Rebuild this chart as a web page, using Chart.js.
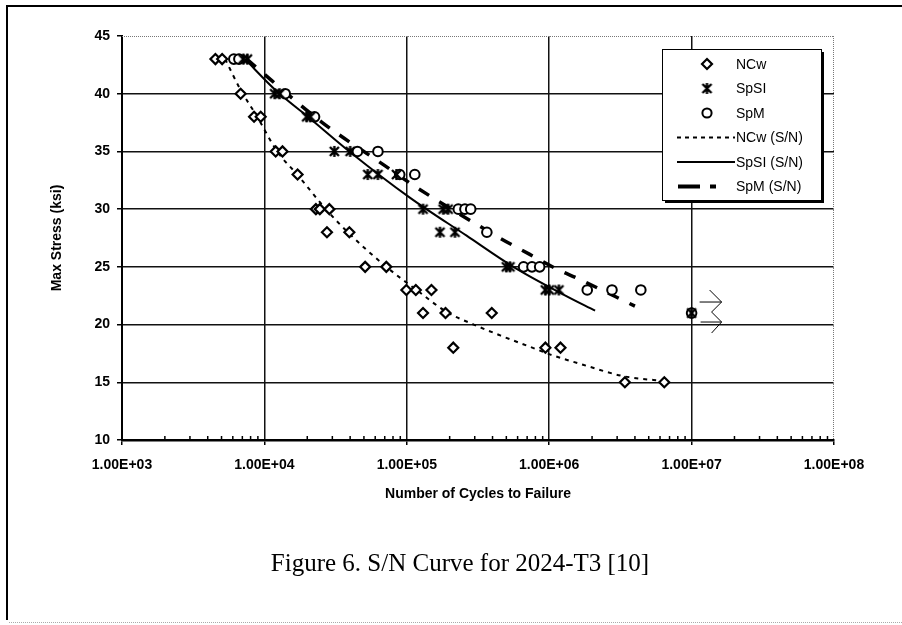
<!DOCTYPE html>
<html lang="en">
  <head>
    <meta charset="utf-8" />
    <title>S/N Curve for 2024-T3</title>
    <script src="https://cdn.jsdelivr.net/npm/chart.js@4.4.1/dist/chart.umd.min.js"></script>
    <style>
      body { margin: 0; background: #fff; }
      .page { position: relative; width: 902px; height: 625px; overflow: hidden; }
      .frame { position: absolute; left: 6px; top: 5px; right: -5px; bottom: 5px; border-top: 2px solid #000; border-left: 2px solid #000; }
      .bottom-rule { position: absolute; left: 9px; right: 0; top: 622px; border-top: 1px dotted #aaa; }
      .chart-wrap { position: absolute; left: 0; top: 0; width: 902px; height: 625px; }
      .caption { position: absolute; left: 0; top: 548px; width: 920px; text-align: center; font-family: "Liberation Serif", "Times New Roman", serif; font-size: 25px; line-height: 30px; color: #000; }
    </style>
  </head>
  <body>
    <div class="page">
      <div class="frame"></div>
      <div class="bottom-rule"></div>
      <div class="chart-wrap"><canvas id="sn"></canvas></div>
      <div class="caption">Figure 6. S/N Curve for 2024-T3 [10]</div>
    </div>

    <script>
      // axis ticks
      const xTickValues = [1e3, 1e4, 1e5, 1e6, 1e7, 1e8];
      const xTickLabels = ["1.00E+03", "1.00E+04", "1.00E+05", "1.00E+06", "1.00E+07", "1.00E+08"];
      const yTickValues = [10, 15, 20, 25, 30, 35, 40, 45];

      // test points (cycles, ksi)
      const ncwCycles = [4530, 5050, 6810, 8460, 9420, 12000, 13400, 17100, 23000, 24500, 28600, 27500, 39500, 51000, 71800, 99300, 115700, 149000, 130000, 187000, 395000, 212000, 940000, 1200000, 3400000, 6430000];
      const ncwStress = [43, 43, 40, 38, 38, 35, 35, 33, 30, 30, 30, 28, 28, 25, 25, 23, 23, 23, 21, 21, 21, 18, 18, 18, 15, 15];

      const spslCycles = [7100, 7600, 11800, 12800, 19800, 21000, 31000, 40000, 53200, 62700, 84600, 130000, 180000, 195000, 171000, 218000, 500000, 530000, 940000, 1000000, 1170000, 10000000];
      const spslStress = [43, 43, 40, 40, 38, 38, 35, 35, 33, 33, 33, 30, 30, 30, 28, 28, 25, 25, 23, 23, 23, 21];

      const spmCycles = [6100, 6620, 14000, 22500, 45000, 62700, 89200, 113800, 230000, 256000, 281000, 365000, 661000, 757000, 857000, 1850000, 2760000, 4400000, 10000000];
      const spmStress = [43, 43, 40, 38, 35, 35, 33, 33, 30, 30, 30, 28, 25, 25, 25, 23, 23, 23, 21];

      // S/N curves
      const ncwFitCycles = [5300, 6760, 8900, 12300, 17000, 27000, 38500, 71800, 117000, 190000, 295000, 453000, 760000, 1020000, 1750000, 3400000, 6700000];
      const ncwFitStress = [43, 40.4, 38, 35, 33, 30, 28, 25, 23, 21.1, 20, 19.06, 18, 17.4, 16.5, 15.5, 15.1];

      const spslFitCycles = [7300, 12000, 20700, 39500, 105000, 263000, 560000, 1260000, 2100000];
      const spslFitStress = [43, 40.3, 37.9, 35, 31, 27.7, 25, 22.6, 21.2];

      const spmFitCycles = [7500, 25500, 67600, 110000, 240000, 465000, 725000, 1135000, 1580000, 4000000];
      const spmFitStress = [43, 37.5, 33.9, 32.1, 29.5, 27.4, 26.1, 24.8, 24.0, 21.6];

      function pts(xs, ys) {
        return xs.map((x, i) => ({ x: x, y: ys[i] }));
      }

      // asterisk-like marker (X with a vertical bar)
      function makeStar(size) {
        const c = document.createElement("canvas");
        c.width = size;
        c.height = size;
        const g = c.getContext("2d");
        g.strokeStyle = "#000";
        g.lineWidth = 2.4;
        g.beginPath();
        g.moveTo(2, 2); g.lineTo(size - 2, size - 2);
        g.moveTo(2, size - 2); g.lineTo(size - 2, 2);
        g.moveTo(size / 2, 1); g.lineTo(size / 2, size - 1);
        g.stroke();
        return c;
      }
      const starImg = makeStar(13);

      const axisFont = { family: "'Liberation Sans', Arial, sans-serif", size: 14, weight: "bold" };

      const extras = {
        id: "extras",
        afterDraw(chart) {
          const { ctx, chartArea: a, scales } = chart;
          const x = scales.x, y = scales.y;
          ctx.save();

          // dotted plot-area border (top, right)
          ctx.strokeStyle = "#777";
          ctx.lineWidth = 1;
          ctx.setLineDash([1, 1]);
          ctx.beginPath();
          ctx.moveTo(a.left, a.top + 0.5);
          ctx.lineTo(a.right, a.top + 0.5);
          ctx.moveTo(a.right - 0.5, a.top);
          ctx.lineTo(a.right - 0.5, a.bottom);
          ctx.stroke();
          ctx.setLineDash([]);

          // minor ticks on the log axis
          ctx.strokeStyle = "#000";
          ctx.lineWidth = 1.5;
          ctx.beginPath();
          for (let d = 3; d < 8; d++) {
            for (let k = 2; k < 10; k++) {
              const px = x.getPixelForValue(k * Math.pow(10, d));
              ctx.moveTo(px, a.bottom);
              ctx.lineTo(px, a.bottom - 4);
            }
          }
          ctx.stroke();

          // run-out arrow next to the 1E+07 point
          const rx = x.getPixelForValue(spslCycles[spslCycles.length - 1]);
          const ry = y.getPixelForValue(spslStress[spslStress.length - 1]);
          ctx.lineWidth = 1;
          ctx.beginPath();
          ctx.moveTo(rx + 18, ry - 23);
          ctx.lineTo(rx + 30, ry - 11);
          ctx.lineTo(rx + 20, ry - 1);
          ctx.lineTo(rx + 30, ry + 9);
          ctx.lineTo(rx + 20, ry + 20);
          ctx.moveTo(rx + 8, ry - 11);
          ctx.lineTo(rx + 30, ry - 11);
          ctx.moveTo(rx + 9, ry + 9);
          ctx.lineTo(rx + 30, ry + 9);
          ctx.stroke();

          // legend box
          const L = 662, T = 49, W = 159, H = 151;
          ctx.fillStyle = "#000";
          ctx.fillRect(L + 3, T + 3, W, H);
          ctx.fillStyle = "#fff";
          ctx.fillRect(L, T, W, H);
          ctx.strokeStyle = "#000";
          ctx.lineWidth = 1;
          ctx.strokeRect(L + 0.5, T + 0.5, W, H);

          const rows = [64, 88.5, 113, 137.5, 162, 186.5];
          const names = ["NCw", "SpSI", "SpM", "NCw (S/N)", "SpSI (S/N)", "SpM (S/N)"];
          const mx = 707;

          // diamond
          ctx.lineWidth = 2.2;
          ctx.beginPath();
          ctx.moveTo(mx, rows[0] - 5);
          ctx.lineTo(mx + 5, rows[0]);
          ctx.lineTo(mx, rows[0] + 5);
          ctx.lineTo(mx - 5, rows[0]);
          ctx.closePath();
          ctx.stroke();
          // star
          ctx.drawImage(starImg, mx - 6.5, rows[1] - 6.5);
          // circle
          ctx.lineWidth = 2;
          ctx.beginPath();
          ctx.arc(mx, rows[2], 4.6, 0, Math.PI * 2);
          ctx.stroke();
          // dotted
          ctx.setLineDash([4, 4]);
          ctx.beginPath();
          ctx.moveTo(677, rows[3]);
          ctx.lineTo(735, rows[3]);
          ctx.stroke();
          ctx.setLineDash([]);
          // solid
          ctx.beginPath();
          ctx.moveTo(677, rows[4]);
          ctx.lineTo(735, rows[4]);
          ctx.stroke();
          // thick dash
          ctx.lineWidth = 4;
          ctx.beginPath();
          ctx.moveTo(678, rows[5]);
          ctx.lineTo(700, rows[5]);
          ctx.moveTo(710, rows[5]);
          ctx.lineTo(716, rows[5]);
          ctx.stroke();

          ctx.fillStyle = "#000";
          ctx.font = "14px 'Liberation Sans', Arial, sans-serif";
          ctx.textBaseline = "middle";
          ctx.textAlign = "left";
          names.forEach((n, i) => ctx.fillText(n, 736, rows[i] + 1));

          ctx.restore();
        },
      };

      new Chart(document.getElementById("sn"), {
        type: "scatter",
        data: {
          datasets: [
            {
              label: "NCw",
              data: pts(ncwCycles, ncwStress),
              pointStyle: "rectRot",
              pointRadius: 5,
              pointBorderWidth: 2.2,
              borderColor: "#000",
              backgroundColor: "#fff",
              order: 1,
            },
            {
              label: "SpSI",
              data: pts(spslCycles, spslStress),
              pointStyle: starImg,
              pointRadius: 6.5,
              borderColor: "#000",
              backgroundColor: "#000",
              order: 1,
            },
            {
              label: "SpM",
              data: pts(spmCycles, spmStress),
              pointStyle: "circle",
              pointRadius: 4.8,
              pointBorderWidth: 2,
              borderColor: "#000",
              backgroundColor: "#fff",
              order: 1,
            },
            {
              label: "NCw (S/N)",
              data: pts(ncwFitCycles, ncwFitStress),
              showLine: true,
              pointRadius: 0,
              borderColor: "#000",
              borderWidth: 2,
              borderDash: [4, 5],
              cubicInterpolationMode: "monotone",
              order: 2,
            },
            {
              label: "SpSI (S/N)",
              data: pts(spslFitCycles, spslFitStress),
              showLine: true,
              pointRadius: 0,
              borderColor: "#000",
              borderWidth: 2,
              cubicInterpolationMode: "monotone",
              order: 2,
            },
            {
              label: "SpM (S/N)",
              data: pts(spmFitCycles, spmFitStress),
              showLine: true,
              pointRadius: 0,
              borderColor: "#000",
              borderWidth: 3.5,
              borderDash: [12, 12],
              cubicInterpolationMode: "monotone",
              order: 2,
            },
          ],
        },
        options: {
          responsive: true,
          maintainAspectRatio: false,
          animation: false,
          layout: { padding: { left: 49, top: 36, right: 68, bottom: 122 } },
          plugins: { legend: { display: false }, tooltip: { enabled: false } },
          scales: {
            x: {
              type: "logarithmic",
              min: 1e3,
              max: 1e8,
              afterBuildTicks: (s) => {
                s.ticks = xTickValues.map((v) => ({ value: v }));
              },
              afterFit: (s) => {
                s.height = 63;
              },
              ticks: {
                autoSkip: false,
                maxRotation: 0,
                padding: 12,
                color: "#000",
                font: axisFont,
                callback: (v, i) => xTickLabels[i],
              },
              grid: {
                color: (c) => (c.tick && c.tick.value >= 1e8 ? "rgba(0,0,0,0)" : "#111"),
                lineWidth: 1.5,
                tickLength: 5,
                tickColor: "#000",
                tickWidth: 1.5,
              },
              border: { color: "#000", width: 2.5 },
              title: { display: true, text: "Number of Cycles to Failure", color: "#000", font: axisFont, padding: 0 },
            },
            y: {
              min: 10,
              max: 45,
              afterBuildTicks: (s) => {
                s.ticks = yTickValues.map((v) => ({ value: v }));
              },
              afterFit: (s) => {
                s.width = 73;
              },
              ticks: {
                padding: 7,
                color: "#000",
                font: axisFont,
                callback: (v) => String(v),
              },
              grid: {
                color: (c) => (c.tick && c.tick.value >= 45 ? "rgba(0,0,0,0)" : "#111"),
                lineWidth: 1.5,
                tickLength: 5,
                tickColor: "#000",
                tickWidth: 1.5,
              },
              border: { color: "#000", width: 2 },
              title: { display: true, text: "Max Stress (ksi)", color: "#000", font: axisFont, padding: 0 },
            },
          },
        },
        plugins: [extras],
      });
    </script>
  </body>
</html>
